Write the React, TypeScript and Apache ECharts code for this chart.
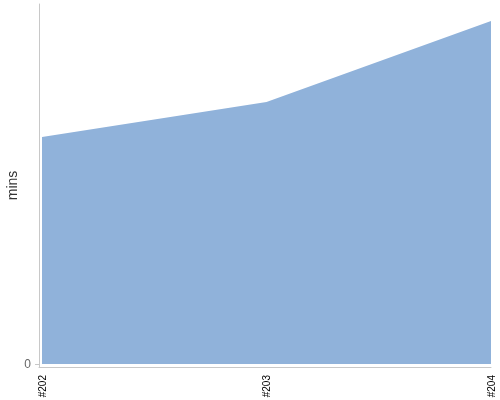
import React, { useEffect, useRef } from "react";
import * as echarts from "echarts";

const categories = ["#202", "#203", "#204"];
const minutes = [227, 262, 343];
const yTicks = [0];

export default function App() {
  const ref = useRef<HTMLDivElement>(null);
  useEffect(() => {
    if (!ref.current) return;
    const chart = echarts.init(ref.current, null, { renderer: "svg" });
    const idx = categories.map((_, i) => i);
    chart.setOption({
      animation: false,
      textStyle: { fontFamily: "Arial, 'Liberation Sans', sans-serif" },
      grid: { left: 39, right: 9, top: 4, bottom: 33, containLabel: false, outerBoundsMode: "none" },
      xAxis: {
        type: "value",
        min: -0.0134,
        max: 2,
        splitLine: { show: false },
        axisLine: { show: true, onZero: false, lineStyle: { color: "#c8c8c8", width: 1 } },
        axisTick: { show: false },
        axisLabel: {
          customValues: idx,
          rotate: 90,
          margin: 8,
          fontSize: 10,
          color: "#000",
          formatter: (v: number) => categories[Math.round(v)] ?? "",
        },
      },
      yAxis: {
        type: "value",
        min: -3,
        max: 360,
        name: "mins",
        nameLocation: "middle",
        nameRotate: 90,
        nameGap: 20,
        nameMoveOverlap: false,
        nameTextStyle: { fontSize: 14, color: "#333" },
        splitLine: { show: false },
        axisLine: { show: true, onZero: false, lineStyle: { color: "#c8c8c8", width: 1 } },
        axisTick: { show: true, customValues: yTicks, length: 4, lineStyle: { color: "#c8c8c8" } },
        axisLabel: { customValues: yTicks, fontSize: 12, color: "#666", margin: 8 },
      },
      series: [
        {
          type: "line",
          data: idx.map((i) => [i, minutes[i]]),
          symbol: "none",
          lineStyle: { width: 0 },
          areaStyle: { color: "#90b2da", opacity: 1, origin: 0 },
        },
      ],
    });
    return () => chart.dispose();
  }, []);
  return <div ref={ref} style={{ position: "fixed", left: 0, top: 0, width: 500, height: 400 }} />;
}
